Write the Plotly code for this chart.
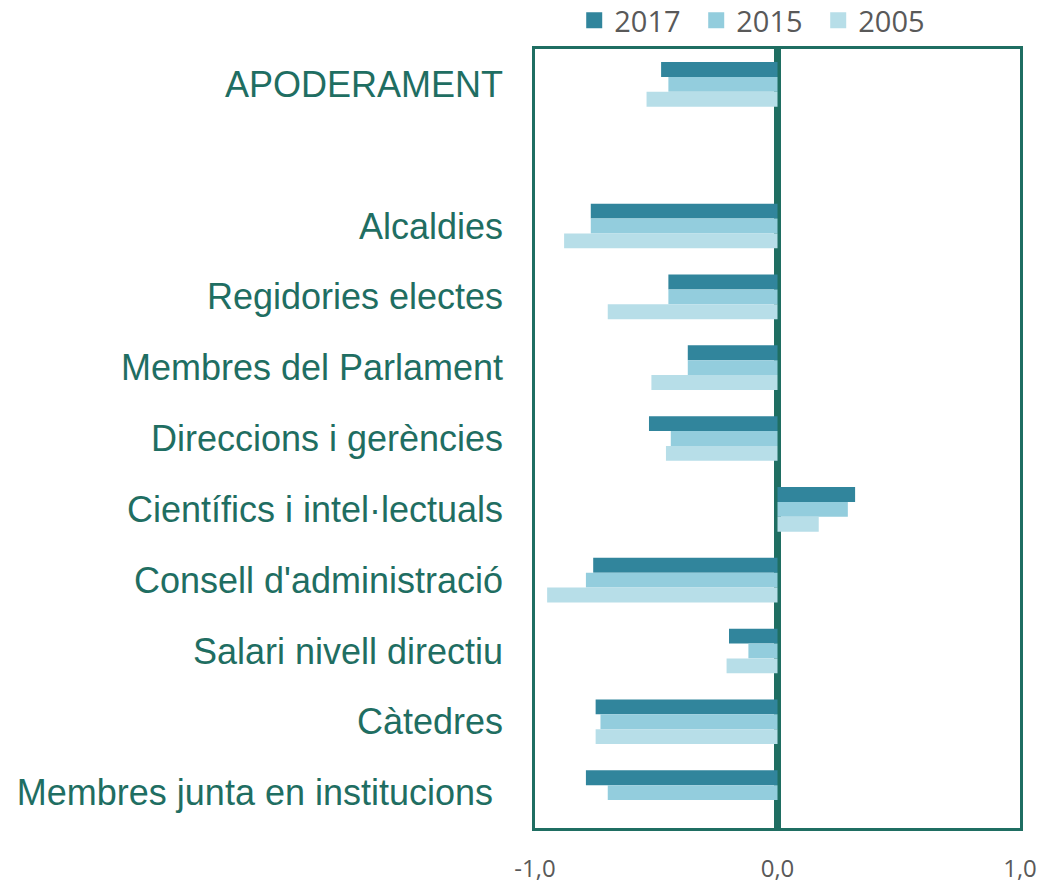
import plotly.graph_objects as go

# Categories, top to bottom (a blank slot separates the summary row)
categories = [
    "APODERAMENT",
    " ",
    "Alcaldies",
    "Regidories electes",
    "Membres del Parlament",
    "Direccions i gerències",
    "Científics i intel·lectuals",
    "Consell d'administració",
    "Salari nivell directiu",
    "Càtedres",
    "Membres junta en institucions\u00a0",
]

values_2017 = [-0.48, None, -0.77, -0.45, -0.37, -0.53, 0.32, -0.76, -0.20, -0.75, -0.79]
values_2015 = [-0.45, None, -0.77, -0.45, -0.37, -0.44, 0.29, -0.79, -0.12, -0.73, -0.70]
values_2005 = [-0.54, None, -0.88, -0.70, -0.52, -0.46, 0.17, -0.95, -0.21, -0.75, None]

x_ticks = [-1, 0, 1]
x_tick_labels = ["-1,0", "0,0", "1,0"]

series = [
    ("2017", values_2017, "#31859c"),
    ("2015", values_2015, "#93cddd"),
    ("2005", values_2005, "#b7dee8"),
]

GREEN = "#1f6e62"
GREY = "#595959"

fig = go.Figure()
for name, vals, color in series:
    fig.add_trace(go.Bar(
        name=name,
        y=categories,
        x=vals,
        orientation="h",
        marker=dict(color=color, line=dict(width=0)),
        showlegend=False,
        legendgroup=name,
    ))

# Legend keys drawn as larger squares than the default bar swatch
for name, vals, color in series:
    fig.add_trace(go.Scatter(
        name=name,
        x=[None],
        y=[None],
        mode="markers",
        marker=dict(symbol="square", size=18, color=color),
        legendgroup=name,
        hoverinfo="skip",
    ))

fig.update_layout(
    width=1043,
    height=885,
    margin=dict(l=535, r=23, t=49, b=57, autoexpand=False),
    paper_bgcolor="white",
    plot_bgcolor="white",
    barmode="group",
    bargap=0.37,
    bargroupgap=0,
    font=dict(family="Liberation Sans, Arial, sans-serif", color=GREEN),
    legend=dict(
        orientation="h",
        xref="container",
        yref="container",
        x=0.726,
        y=0.977,
        xanchor="center",
        yanchor="middle",
        entrywidth=77,
        entrywidthmode="pixels",
        font=dict(family="Open Sans, sans-serif", size=29, color=GREY),
        itemclick=False,
        itemdoubleclick=False,
        tracegroupgap=0,
    ),
    showlegend=True,
)

fig.update_xaxes(
    range=[-1, 1],
    tickmode="array",
    tickvals=x_ticks,
    ticktext=x_tick_labels,
    showgrid=False,
    zeroline=True,
    zerolinecolor=GREEN,
    zerolinewidth=7,
    showline=True,
    mirror=True,
    linecolor=GREEN,
    linewidth=2.5,
    ticks="",
    ticklabelstandoff=17,
    tickfont=dict(family="Open Sans, sans-serif", size=24, color=GREY),
    fixedrange=True,
)

fig.update_yaxes(
    categoryorder="array",
    categoryarray=categories,
    autorange="reversed",
    showgrid=False,
    showline=True,
    mirror=True,
    linecolor=GREEN,
    linewidth=2.5,
    ticks="",
    ticklabelstandoff=22,
    tickfont=dict(family="Liberation Sans, Arial, sans-serif", size=36, color=GREEN),
    fixedrange=True,
)

fig.write_html("out.html")
